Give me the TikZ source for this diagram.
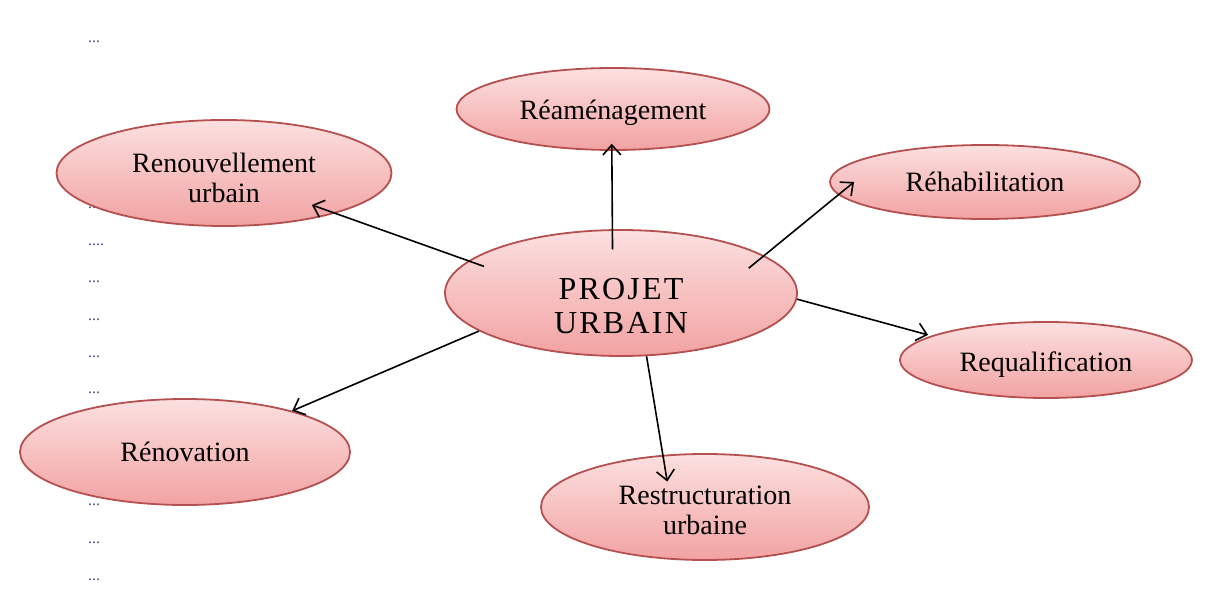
\documentclass[tikz,border=0pt]{standalone}
\usepackage{fontspec}
\setmainfont{Liberation Serif}
\usetikzlibrary{shapes.geometric,calc,arrows.meta}

\definecolor{pinktop}{RGB}{252,224,224}
\definecolor{pinkbot}{RGB}{242,162,162}
\definecolor{pinkline}{RGB}{180,80,80}
\definecolor{dotblue}{RGB}{70,75,130}

\begin{document}
\begin{tikzpicture}[x=0.5pt,y=-0.5pt]
\tikzset{
  bubble/.style={ellipse, draw=pinkline, line width=0.9pt, top color=pinktop,
    bottom color=pinkbot, inner sep=0pt, align=center, font=\fontsize{14}{15}\selectfont},
  link/.style={line width=0.8pt, -{Straight Barb[length=5pt,width=9pt]}},
  dots/.style={text=dotblue, font=\fontsize{8}{8}\selectfont, inner sep=0pt}
}
\useasboundingbox (0,0) rectangle (1221,593);

% stray dots in the left margin
\foreach \y [count=\i] in {42,208,282,320,357,393,505,543,580}
{
	\node[dots] (d\i) at (94,\y) {...};
}
\node[dots] (d0) at (96,245) {....};

\node[bubble, minimum width=156.5pt, minimum height=41pt] (rea) at (613,109) {\rule{0pt}{14pt}Réaménagement};
\node[bubble, minimum width=167.5pt, minimum height=53pt] (ren) at (224,173) {\rule{0pt}{15pt}Renouvellement\\urbain};
\node[bubble, minimum width=155pt, minimum height=37pt] (reh) at (985,182) {Réhabilitation};
\node[bubble, minimum width=176pt, minimum height=63pt,
	font=\fontsize{16}{17}\selectfont\addfontfeature{LetterSpace=7}] (proj) at (621,293) {\rule{0pt}{24pt}PROJET\\URBAIN};
\node[bubble, minimum width=146pt, minimum height=38pt] (req) at (1046,360) {\rule{0pt}{14pt}Requalification};
\node[bubble, minimum width=165pt, minimum height=53pt] (reno) at (185,452) {Rénovation};
\node[bubble, minimum width=164pt, minimum height=53pt] (restr) at (705,507) {\rule{0pt}{13pt}Restructuration\\urbaine};

\foreach \a/\fa/\to/\b/\fb in {101.8/0.685/rea/268.3/0.83, 169.8/0.88/ren/-20.4/0.79,
	11.8/0.82/reh/180.4/0.84, -2.3/1.0/req/168.3/1.03, 195.7/1.0/reno/21.8/1.0,
	-68.8/1.0/restr/146.7/0.525}
{
	\draw[link] ($(proj)!\fa!(proj.\a)$) -- ($(\to)!\fb!(\to.\b)$);
}

\end{tikzpicture}
\end{document}
